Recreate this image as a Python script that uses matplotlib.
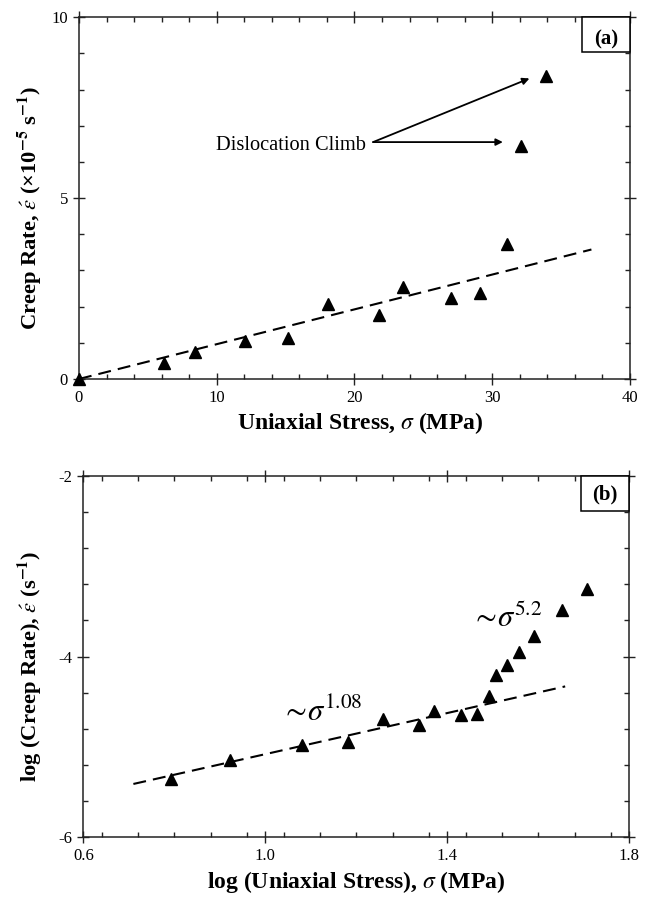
import matplotlib
matplotlib.use("Agg")
import matplotlib.pyplot as plt
from matplotlib.ticker import MultipleLocator, FixedLocator
from matplotlib.patches import Rectangle

plt.rcParams['font.family'] = ['Liberation Serif', 'DejaVu Serif']
plt.rcParams['mathtext.fontset'] = 'stix'

# ---- Panel (a) data ----
stress_a = [0.0, 6.2, 8.4, 12.05, 15.2, 18.1, 21.8, 23.5, 27.0, 29.1, 31.1, 32.1, 33.9]
rate_a = [0.0, 0.45, 0.74, 1.06, 1.14, 2.07, 1.77, 2.55, 2.25, 2.37, 3.72, 6.44, 8.38]
fit_a_x = [0.0, 37.2]
fit_a_y = [0.0, 3.58]
climb_label = 'Dislocation Climb'
climb_label_xy = (20.87, 6.345)
climb_tail = (21.35, 6.55)
climb_heads = [(32.7, 8.31), (30.77, 6.55)]
xticks_a = [0, 10, 20, 30, 40]
yticks_a = [0, 5, 10]

# ---- Panel (b) data ----
logstress_b = [0.793, 0.922, 1.080, 1.181, 1.258, 1.338, 1.371, 1.431, 1.465,
               1.492, 1.507, 1.531, 1.558, 1.591, 1.651, 1.706]
lograte_b = [-5.35, -5.145, -4.98, -4.94, -4.69, -4.76, -4.60, -4.65, -4.63,
             -4.44, -4.20, -4.09, -3.95, -3.77, -3.48, -3.25]
fit_b_x = [0.710, 1.659]
fit_b_y = [-5.41, -4.33]
slope_labels = [('1.08', 1.035, -4.713), ('5.2', 1.452, -3.669)]
xticks_b = [0.6, 1.0, 1.4, 1.8]
yticks_b = [-2, -4, -6]

fig = plt.figure(figsize=(6.49, 8.97), dpi=100)
ax1 = fig.add_axes([0.1217, 0.5775, 0.849, 0.4032])
ax2 = fig.add_axes([0.1284, 0.0666, 0.8413, 0.4028])


def style(ax, xmaj, xmin, ymaj, ymin):
    ax.xaxis.set_major_locator(FixedLocator(xmaj))
    ax.yaxis.set_major_locator(FixedLocator(ymaj))
    ax.xaxis.set_minor_locator(MultipleLocator(xmin))
    ax.yaxis.set_minor_locator(MultipleLocator(ymin))
    ax.tick_params(which='major', direction='inout', length=8, width=1.0,
                   top=True, right=True, labelsize=12, pad=4, color='#222222')
    ax.tick_params(which='minor', direction='in', length=3.5, width=1.0,
                   top=True, right=True, color='#222222')
    for s in ax.spines.values():
        s.set_linewidth(1.1)
        s.set_color('#222222')


def panel_tag(ax, label, w, h, ty):
    ax.add_patch(Rectangle((1 - w, 1 - h), w, h, transform=ax.transAxes,
                           fc='white', ec='black', lw=1.1, clip_on=False, zorder=6))
    ax.text(1 - w / 2, 1 - h * ty, label, transform=ax.transAxes, ha='center',
            va='center', fontsize=15, fontweight='bold', zorder=7)


# Panel (a)
ax1.plot(fit_a_x, fit_a_y, color='black', lw=1.5, dashes=(6.2, 3.4))
ax1.plot(stress_a, rate_a, linestyle='none', marker='^', ms=9, color='black',
         clip_on=False, zorder=5)
ax1.set_xlim(0, 40)
ax1.set_ylim(0, 10)
style(ax1, xticks_a, 2, yticks_a, 1)
ax1.set_xticklabels([str(v) for v in xticks_a])
ax1.set_yticklabels([str(v) for v in yticks_a])
ax1.set_xlabel(r'Uniaxial Stress, $\sigma$ (MPa)', fontsize=17, fontweight='bold', labelpad=3)
ax1.xaxis.label.set_x(0.511)
ax1.set_ylabel(r'Creep Rate, $\acute{\varepsilon}$ (×10$^{\mathbf{-5}}$ s$^{\mathbf{-1}}$)',
               fontsize=16.2, fontweight='bold')
ax1.yaxis.set_label_coords(-0.064, 0.474)
ax1.text(climb_label_xy[0], climb_label_xy[1], climb_label, fontsize=14.7,
         ha='right', va='baseline')
for hx, hy in climb_heads:
    ax1.annotate('', xy=(hx, hy), xytext=climb_tail,
                 arrowprops=dict(arrowstyle='-|>', color='black', lw=1.3,
                                 mutation_scale=10, shrinkA=0, shrinkB=0))
panel_tag(ax1, '(a)', 48 / 551, 35 / 361.7, 0.62)

# Panel (b)
ax2.plot(fit_b_x, fit_b_y, color='black', lw=1.5, dashes=(6.2, 3.4))
ax2.plot(logstress_b, lograte_b, linestyle='none', marker='^', ms=9, color='black',
         zorder=5)
ax2.set_xlim(0.6, 1.8)
ax2.set_ylim(-6, -2)
style(ax2, xticks_b, 0.08, yticks_b, 0.4)
ax2.set_xticklabels(['%.1f' % v for v in xticks_b])
ax2.set_yticklabels(['%d' % v for v in yticks_b])
ax2.set_xlabel(r'log (Uniaxial Stress), $\sigma$ (MPa)', fontsize=17, fontweight='bold', labelpad=3)
ax2.set_ylabel(r'log (Creep Rate), $\acute{\varepsilon}$ (s$^{\mathbf{-1}}$)',
               fontsize=16.2, fontweight='bold')
ax2.yaxis.set_label_coords(-0.072, 0.473)
for expo, lx, ly in slope_labels:
    ax2.text(lx, ly, r'$\sim\!\sigma^{%s}$' % expo, fontsize=22, ha='left', va='baseline')
panel_tag(ax2, '(b)', 48.6 / 546, 34.7 / 361.3, 0.52)

fig.savefig('out.png', dpi=100)
